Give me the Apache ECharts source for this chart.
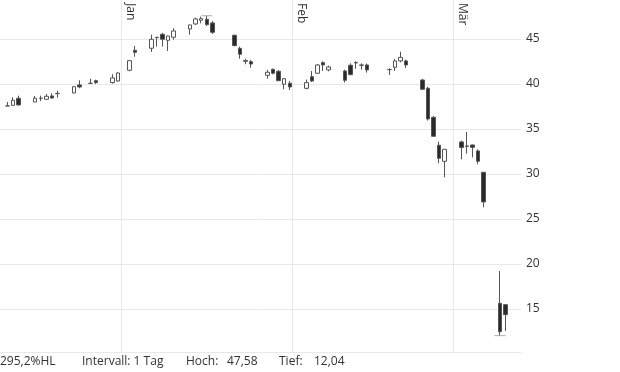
<!DOCTYPE html>
<html><head><meta charset="utf-8">
<script src="https://cdn.jsdelivr.net/npm/echarts@6/dist/echarts.min.js"></script>
<style>html,body{margin:0;padding:0;background:#fff}#c{width:620px;height:372px}</style>
</head><body><div id="c"></div>
<script>
const dates = ['2019-12-11','2019-12-12','2019-12-13','2019-12-16','2019-12-17','2019-12-18','2019-12-19','2019-12-20','2019-12-23','2019-12-24','2019-12-26','2019-12-27','2019-12-30','2019-12-31',
  '2020-01-02','2020-01-03','2020-01-06','2020-01-07','2020-01-08','2020-01-09','2020-01-10','2020-01-13','2020-01-14','2020-01-15','2020-01-16','2020-01-17','2020-01-21','2020-01-22','2020-01-23','2020-01-24','2020-01-27','2020-01-28','2020-01-29','2020-01-30','2020-01-31',
  '2020-02-03','2020-02-04','2020-02-05','2020-02-06','2020-02-07','2020-02-10','2020-02-11','2020-02-12','2020-02-13','2020-02-14','2020-02-18','2020-02-19','2020-02-20','2020-02-21','2020-02-24','2020-02-25','2020-02-26','2020-02-27','2020-02-28',
  '2020-03-02','2020-03-03','2020-03-04','2020-03-05','2020-03-06','2020-03-09','2020-03-10'];
const open  = [37.56,37.63,38.41,38.00,38.40,38.30,38.67,38.93,39.00,39.89,40.07,40.37,40.15,40.33,
  41.52,43.74,43.97,45.15,45.52,44.85,45.19,46.11,46.67,47.07,47.19,46.78,45.41,43.96,42.60,42.48,40.96,41.63,41.41,39.97,40.08,
  39.52,40.81,41.19,42.37,41.56,41.44,42.08,42.33,42.07,42.11,41.60,41.85,42.56,42.56,40.44,39.52,36.30,33.19,31.41,
  33.56,33.11,33.22,32.56,30.19,15.63,15.48];
const close = [37.56,38.19,37.67,38.41,38.42,38.63,38.44,38.96,39.70,39.67,40.07,40.15,40.67,41.22,
  42.59,43.52,44.96,45.19,44.97,45.33,45.89,46.56,47.22,47.26,46.59,45.74,44.26,43.30,42.52,42.22,41.30,41.19,40.37,40.59,39.67,
  40.15,40.33,42.11,42.11,41.89,40.41,41.04,42.40,42.11,41.56,41.60,42.56,42.96,42.11,39.41,36.11,34.19,31.74,32.74,
  32.93,33.07,32.96,31.41,26.89,12.48,14.37];
const low   = [37.56,37.60,37.60,38.00,38.10,38.26,38.37,38.48,38.98,39.52,40.07,40.00,40.04,40.26,
  41.41,43.03,43.56,44.15,44.15,43.67,44.93,45.48,46.56,46.74,46.44,45.56,44.19,42.81,42.19,41.81,40.59,41.07,40.30,39.41,39.33,
  39.41,40.22,41.11,41.44,41.41,40.15,40.96,41.70,41.59,41.26,41.00,41.44,42.41,41.78,39.41,35.93,34.15,31.19,29.63,
  31.63,32.26,31.85,31.07,26.30,12.04,12.56];
const high  = [38.00,38.52,38.70,38.67,38.70,38.89,38.96,39.26,39.72,40.41,40.59,40.48,41.08,41.30,
  42.67,44.22,45.48,45.22,45.67,45.35,46.19,46.58,47.37,47.48,47.58,47.00,45.48,44.15,42.81,42.67,41.56,41.70,41.56,40.67,40.33,
  40.48,41.44,42.22,42.52,42.04,41.59,42.30,42.52,42.30,42.26,41.74,42.78,43.59,42.70,40.56,39.67,36.44,33.59,32.78,
  33.70,34.67,33.26,32.74,30.19,19.22,15.56];
const monthStarts = ['2020-01-01','2020-02-01','2020-03-01'];
const monthLabels = ['Jan','Feb','Mär'];
const yTicks = [15,20,25,30,35,40,45];
const footerTexts = {interval:'Intervall: 1 Tag', hoch:'Hoch:', tief:'Tief:', hlSuffix:'%HL'};

const ORIGIN = Date.UTC(2020,0,1);
function day(s){ const p=s.split('-').map(Number); return (Date.UTC(p[0],p[1]-1,p[2])-ORIGIN)/86400000; }
const monthDays = monthStarts.map(day);
const candles = dates.map((d,i)=>[day(d)+0.5, open[i], close[i], low[i], high[i]]);
const hiVal = Math.max(...high), loVal = Math.min(...low);
const hiIdx = high.indexOf(hiVal), loIdx = low.indexOf(loVal);
const fmt = (v,n)=>v.toFixed(n).replace('.',',');
const hlPct = (hiVal-loVal)/loVal*100;

const FONT = '"Open Sans", sans-serif';
const GRID_C = '#e8e8e8';
const TXT = '#333';
const xMin = -21.87, xMax = 72.29;

const chart = echarts.init(document.getElementById('c'));
chart.setOption({
  animation:false,
  textStyle:{fontFamily:FONT},
  grid:{left:0, right:99, top:0, bottom:20, containLabel:false, outerBoundsMode:'none'},
  xAxis:[
    {type:'value', position:'top', min:xMin, max:xMax,
     axisLine:{show:false}, axisTick:{show:false, customValues:monthDays},
     splitLine:{show:true, lineStyle:{color:GRID_C, width:1}},
     axisLabel:{customValues:monthDays, inside:true, rotate:90, margin:3, verticalAlign:'bottom', padding:[0,0,3,0],
       color:TXT, fontSize:12, fontFamily:FONT,
       formatter:v=>{const i=monthDays.indexOf(v); return i>=0?monthLabels[i]:'';}}},
    {type:'value', position:'bottom', min:xMin, max:xMax,
     axisLine:{show:true, lineStyle:{color:GRID_C}}, axisTick:{show:false}, axisLabel:{show:false}, splitLine:{show:false}}
  ],
  yAxis:{type:'value', position:'right', min:10.22, max:49.33,
    axisLine:{show:true, lineStyle:{color:GRID_C}}, axisTick:{show:false, customValues:yTicks},
    splitLine:{show:true, lineStyle:{color:GRID_C}},
    axisLabel:{customValues:yTicks, margin:5, color:TXT, fontSize:12, fontFamily:FONT}},
  series:[
    {type:'candlestick', xAxisIndex:0, data:candles, encode:{x:0, y:[1,2,3,4]}, barWidth:4,
     itemStyle:{color:'#ffffff', color0:'#2a2a2a', borderColor:'#555', borderColor0:'#555', borderColorDoji:'#555', borderWidth:1},
     emphasis:{disabled:true}, silent:true},
    {type:'scatter', xAxisIndex:0, symbol:'rect', symbolSize:[11,1], silent:true,
     itemStyle:{color:'#999'},
     data:[[day(dates[hiIdx])+0.5, hiVal],[day(dates[loIdx])+0.5, loVal]]}
  ],
  graphic:[
    {type:'text', left:0, top:356, style:{text:fmt(hlPct,1)+footerTexts.hlSuffix, font:'12px '+FONT, fill:TXT}},
    {type:'text', left:82, top:356, style:{text:footerTexts.interval, font:'12px '+FONT, fill:TXT}},
    {type:'text', left:186, top:356, style:{text:footerTexts.hoch, font:'12px '+FONT, fill:TXT}},
    {type:'text', left:227, top:356, style:{text:fmt(hiVal,2), font:'12px '+FONT, fill:TXT}},
    {type:'text', left:279, top:356, style:{text:footerTexts.tief, font:'12px '+FONT, fill:TXT}},
    {type:'text', left:314, top:356, style:{text:fmt(loVal,2), font:'12px '+FONT, fill:TXT}}
  ]
});
</script></body></html>
